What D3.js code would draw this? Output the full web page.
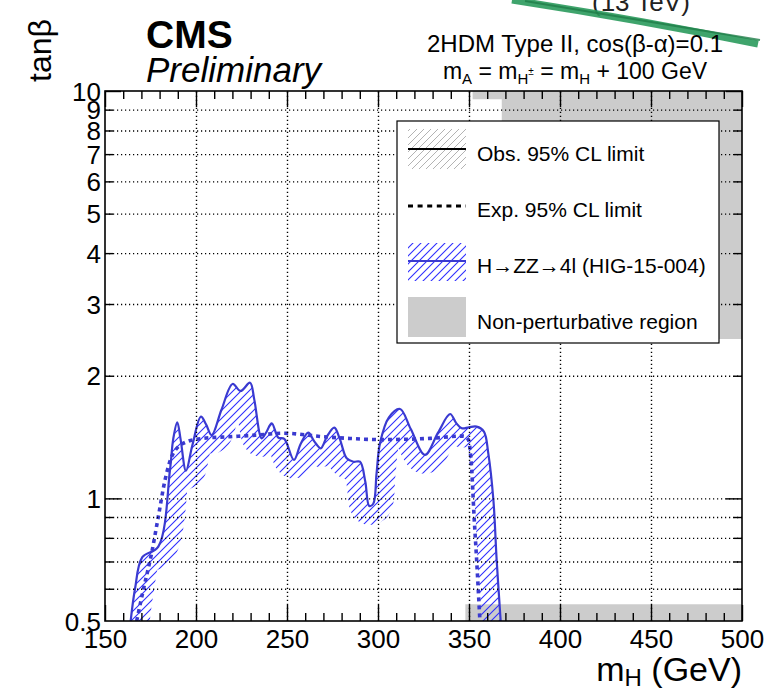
<!DOCTYPE html>
<html><head><meta charset="utf-8">
<script src="https://cdn.jsdelivr.net/npm/d3@7"></script>
<style>
html,body{margin:0;padding:0;background:#fff;}
svg{display:block;font-family:"Liberation Sans",Arial,Helvetica,sans-serif;}
</style></head>
<body><svg id="c" width="768" height="690"></svg>
<script>
// ---------------- data ----------------
const obsMass = [164.1,166.5,170.5,179.3,185.7,187.5,189.7,191.5,194.5,198,202.7,205.5,208.6,214,220.1,224.5,229.7,232,236.1,238.5,241.6,245.2,248.5,253.8,257.5,261.7,265,268.5,272,276,279,282.8,286.5,290.1,293,295.2,297.4,299.2,301.1,306,312.1,318,325.8,333,339.6,343,346,350,354.2,358.2,360.6,363.4,365.2,367.4];
const obsTanb = [0.5,0.6,0.717,0.761,1.174,1.40,1.537,1.40,1.169,1.35,1.587,1.52,1.43,1.65,1.909,1.835,1.923,1.75,1.404,1.45,1.529,1.41,1.40,1.243,1.36,1.45,1.38,1.327,1.42,1.491,1.40,1.254,1.23,1.23,1.10,0.958,0.97,1.15,1.365,1.58,1.657,1.48,1.279,1.45,1.611,1.53,1.486,1.495,1.5,1.459,1.29,0.991,0.706,0.5];
const expMass = [167.4,171,175.6,179.3,183,187.5,194.9,204,218.7,233.3,248,270,284.6,301.1,328.6,346.9,349.6,351.5,352.7,354.2,356];
const expTanb = [0.5,0.595,0.733,0.902,1.11,1.29,1.377,1.404,1.417,1.43,1.445,1.417,1.403,1.394,1.404,1.422,1.394,1.174,0.919,0.706,0.5];
// non-perturbative region polygons (mH, tanb)
const npTopMass = [352,500,500,368,368,352];
const npTopTanb = [10,10,2.46,2.46,9.55,9.55];
const npBotMass = [348,500,500,348];
const npBotTanb = [0.5,0.5,0.55,0.55];
// ticks
const xMajor = [150,200,250,300,350,400,450,500];
const xTickLabels = ["150","200","250","300","350","400","450","500"];
const yLabelVals = [0.5,1,2,3,4,5,6,7,8,9,10];
const yLabelText = ["0.5","1","2","3","4","5","6","7","8","9","10"];
const yMajor = [1,10];
const yMinor = [0.6,0.7,0.8,0.9,2,3,4,5,6,7,8,9];
const yGrid = [0.6,0.7,0.8,0.9,1,2,3,4,5,6,7,8,9];
const xGrid = [200,250,300,350,400,450];
const legendLabels = ["Obs. 95% CL limit","Exp. 95% CL limit","H\u2192ZZ\u21924l (HIG-15-004)","Non-perturbative region"];

// ---------------- layout ----------------
const L=105, R=742, T=91, B=621;
const blue="#3a3ad0", hatchBlue="#2f2fff", gray="#cccccc";
const x = d3.scaleLinear().domain([150,500]).range([L,R]);
const y = d3.scaleLog().domain([0.5,10]).range([B,T]);
const svg = d3.select("#c");

const defs = svg.append("defs");
defs.append("clipPath").attr("id","plotclip").append("rect")
  .attr("x",L).attr("y",T).attr("width",R-L).attr("height",B-T);
const hb = defs.append("pattern").attr("id","hatchBlue").attr("patternUnits","userSpaceOnUse")
  .attr("width",8).attr("height",8);
hb.append("path").attr("d","M-2,2L2,-2M0,8L8,0M6,10L10,6").attr("stroke",hatchBlue).attr("stroke-width",1.1).attr("fill","none");
const hg = defs.append("pattern").attr("id","hatchGray").attr("patternUnits","userSpaceOnUse")
  .attr("width",7).attr("height",7);
hg.append("path").attr("d","M-2,2L2,-2M0,7L7,0M5,9L9,5").attr("stroke","#aaa").attr("stroke-width",0.9).attr("fill","none");

// clipped header / green scribble (from the source picture)
svg.append("text").attr("x",592).attr("y",11).attr("font-size",26).attr("fill","#222").text("(13 TeV)");
svg.append("path").attr("d","M512,0 C590,12 680,28 758,44").attr("fill","none")
  .attr("stroke","#2a9a5c").attr("stroke-width",7).attr("opacity",0.9);
svg.append("path").attr("d","M525,1 C600,13 690,29 760,40").attr("fill","none")
  .attr("stroke","#1f7d48").attr("stroke-width",2).attr("opacity",0.8);

// non-perturbative regions
const poly = (ms,ts)=> ms.map((m,i)=>[x(m),y(ts[i])]);
const plot = svg.append("g").attr("clip-path","url(#plotclip)");
[[npTopMass,npTopTanb],[npBotMass,npBotTanb]].forEach(([ms,ts])=>{
  plot.append("path").attr("d", d3.line()(poly(ms,ts))+"Z").attr("fill",gray);
});

// grid
const gridStyle = g=>{g.select(".domain").remove(); g.selectAll("line").attr("stroke","#000").attr("stroke-dasharray","1.2,2.8").attr("stroke-width",1);};
svg.append("g").attr("transform",`translate(0,${B})`)
  .call(d3.axisBottom(x).tickValues(xGrid).tickSize(-(B-T)).tickFormat("")).call(gridStyle);
svg.append("g").attr("transform",`translate(${L},0)`)
  .call(d3.axisLeft(y).tickValues(yGrid).tickSize(-(R-L)).tickFormat("")).call(gridStyle);

// curves
const obsPts = obsMass.map((m,i)=>[x(m),y(obsTanb[i])]);
const expPts = expMass.map((m,i)=>[x(m),y(expTanb[i])]);
const line = d3.line().curve(d3.curveMonotoneX);
const lineCR = d3.line().curve(d3.curveCatmullRom.alpha(0.5));
const bandLayer = plot.append("g");
const obsPath = plot.append("path").attr("d",lineCR(obsPts)).attr("fill","none")
  .attr("stroke",blue).attr("stroke-width",2.2).attr("stroke-linejoin","round");

// hatched band on the excluded side of the observed curve
(function(){
  const node = obsPath.node();
  const len = node.getTotalLength();
  const pts=[];
  for(let s=0;s<=len;s+=1){const p=node.getPointAtLength(s);pts.push([p.x,p.y]);}
  defs.append("clipPath").attr("id","insideclip").append("path")
    .attr("d", d3.line()(pts.concat([[pts[pts.length-1][0],B+5],[pts[0][0],B+5]]))+"Z");
  const w=19;
  const off = pts.map((p,i)=>{
    const a=pts[Math.max(0,i-3)], b=pts[Math.min(pts.length-1,i+3)];
    const dx=b[0]-a[0], dy=b[1]-a[1], n=Math.hypot(dx,dy)||1;
    return [p[0]-dy/n*w, p[1]+dx/n*w];
  });
  const ring = pts.concat(off.slice().reverse());
  bandLayer.attr("clip-path","url(#insideclip)").append("path")
    .attr("d", d3.line()(ring)+"Z").attr("fill","url(#hatchBlue)").attr("stroke","none");
})();

plot.append("path").attr("d",line(expPts)).attr("fill","none")
  .attr("stroke",blue).attr("stroke-width",3.6).attr("stroke-dasharray","4,4");

// frame
svg.append("rect").attr("x",L).attr("y",T).attr("width",R-L).attr("height",B-T)
  .attr("fill","none").attr("stroke","#000").attr("stroke-width",1.6);

// ticks (inward) on all four sides
const fs = 26;
const xMinor = d3.range(160,500,10).filter(v=>v%50);
const axB = svg.append("g").attr("transform",`translate(0,${B})`)
  .call(d3.axisBottom(x).tickValues(xMajor).tickSizeInner(-16).tickSizeOuter(0).tickPadding(8)
    .tickFormat((d,i)=>xTickLabels[i]));
svg.append("g").attr("transform",`translate(0,${B})`)
  .call(d3.axisBottom(x).tickValues(xMinor).tickSizeInner(-8).tickSizeOuter(0).tickFormat(""));
svg.append("g").attr("transform",`translate(0,${T})`)
  .call(d3.axisTop(x).tickValues(xMajor).tickSizeInner(-16).tickSizeOuter(0).tickFormat(""));
svg.append("g").attr("transform",`translate(0,${T})`)
  .call(d3.axisTop(x).tickValues(xMinor).tickSizeInner(-8).tickSizeOuter(0).tickFormat(""));
svg.append("g").attr("transform",`translate(${L},0)`)
  .call(d3.axisLeft(y).tickValues(yMajor).tickSizeInner(-16).tickSizeOuter(0).tickFormat(""));
svg.append("g").attr("transform",`translate(${L},0)`)
  .call(d3.axisLeft(y).tickValues(yMinor).tickSizeInner(-8).tickSizeOuter(0).tickFormat(""));
svg.append("g").attr("transform",`translate(${R},0)`)
  .call(d3.axisRight(y).tickValues(yMajor).tickSizeInner(-16).tickSizeOuter(0).tickFormat(""));
svg.append("g").attr("transform",`translate(${R},0)`)
  .call(d3.axisRight(y).tickValues(yMinor).tickSizeInner(-8).tickSizeOuter(0).tickFormat(""));
const axL = svg.append("g").attr("transform",`translate(${L},0)`)
  .call(d3.axisLeft(y).tickValues(yLabelVals).tickSize(0).tickPadding(4)
    .tickFormat((d,i)=>yLabelText[i]));
svg.selectAll(".domain").remove();
svg.selectAll(".tick line").attr("stroke","#000").attr("stroke-width",1.4);
[axB,axL].forEach(g=>g.selectAll("text").attr("font-size",fs).attr("fill","#000")
  .attr("font-family","'Liberation Sans',Arial,sans-serif"));
axL.selectAll("text").attr("dy","0.35em");
axB.selectAll("text").attr("dy","0.72em");

// axis titles
svg.append("text").attr("transform","translate(51,19) rotate(-90)").attr("text-anchor","end")
  .attr("font-size",32).text("tan\u03b2");
const xt = svg.append("text").attr("x",742).attr("y",681).attr("text-anchor","end").attr("font-size",34);
xt.append("tspan").text("m");
xt.append("tspan").attr("font-size",24).attr("dy",5).text("H");
xt.append("tspan").attr("dy",-5).text(" (GeV)");

// CMS labels
svg.append("text").attr("x",146).attr("y",48).attr("font-size",39).attr("font-weight","bold").text("CMS");
svg.append("text").attr("x",146).attr("y",82).attr("font-size",35).attr("font-style","italic").text("Preliminary");
svg.append("text").attr("x",575).attr("y",52).attr("text-anchor","middle").attr("font-size",24)
  .text("2HDM Type II, cos(\u03b2-\u03b1)=0.1");
const t2 = svg.append("text").attr("x",575).attr("y",79).attr("text-anchor","middle").attr("font-size",23);
t2.append("tspan").text("m");
t2.append("tspan").attr("font-size",15).attr("dy",5).text("A");
t2.append("tspan").attr("dy",-5).text(" = m");
t2.append("tspan").attr("font-size",15).attr("dy",5).text("H");
t2.append("tspan").attr("font-size",10).attr("dy",-9).text("\u00b1");
t2.append("tspan").attr("dy",4).text(" = m");
t2.append("tspan").attr("font-size",15).attr("dy",5).text("H");
t2.append("tspan").attr("dy",-5).text(" + 100 GeV");

// legend
const lg = svg.append("g");
lg.append("rect").attr("x",397).attr("y",121).attr("width",322).attr("height",222)
  .attr("fill","#fff").attr("stroke","#000").attr("stroke-width",1.2);
const sx0=408, sx1=466, tx=477;
lg.append("rect").attr("x",sx0).attr("y",129).attr("width",sx1-sx0).attr("height",40).attr("fill","url(#hatchGray)");
lg.append("line").attr("x1",sx0).attr("x2",sx1).attr("y1",149).attr("y2",149).attr("stroke","#000").attr("stroke-width",2.2);
lg.append("line").attr("x1",sx0).attr("x2",sx1).attr("y1",206).attr("y2",206).attr("stroke","#000").attr("stroke-width",3.2).attr("stroke-dasharray","5,4.6");
lg.append("rect").attr("x",sx0).attr("y",243).attr("width",sx1-sx0).attr("height",38).attr("fill","url(#hatchBlue)");
lg.append("line").attr("x1",sx0).attr("x2",sx1).attr("y1",261).attr("y2",261).attr("stroke",blue).attr("stroke-width",2.2);
lg.append("rect").attr("x",sx0).attr("y",297).attr("width",sx1-sx0).attr("height",40).attr("fill",gray);
[161,217,273,329].forEach((yy,i)=>{
  lg.append("text").attr("x",tx).attr("y",yy).attr("font-size",21).text(legendLabels[i]);
});
</script></body></html>
